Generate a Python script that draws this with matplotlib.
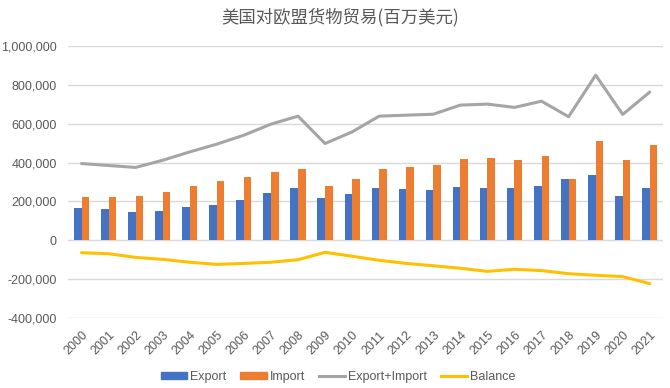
import matplotlib
matplotlib.use("Agg")
import matplotlib.pyplot as plt
import numpy as np
from matplotlib.patches import Patch
from matplotlib.lines import Line2D
from matplotlib.ticker import FuncFormatter

years = [str(y) for y in range(2000, 2022)]
export = [165, 160, 144, 149, 170, 180, 206, 242, 268, 216, 237,
          268, 263, 258, 273, 268, 268, 278, 314, 335, 227, 268]
imports = [222, 222, 227, 247, 278, 304, 325, 350, 366, 278, 314,
           366, 376, 387, 417, 423, 412, 433, 314, 510, 412, 490]
total = [395, 385, 375, 412, 455, 495, 541, 598, 639, 498, 558,
         639, 644, 649, 696, 701, 684, 716, 636, 850, 648, 763]
balance = [-64, -69, -88, -98, -113, -124, -119, -113, -100, -62, -82,
           -103, -119, -131, -144, -160, -149, -156, -172, -180, -187, -223]

# values read in thousands -> millions of dollars as shown on axis
export = np.array(export) * 1000
imports = np.array(imports) * 1000
total = np.array(total) * 1000
balance = np.array(balance) * 1000

BLUE, ORANGE, GREY, GOLD = "#4472C4", "#ED7D31", "#A5A5A5", "#FFC000"
TXT = "#595959"

plt.rcParams["font.family"] = ["Liberation Sans", "DejaVu Sans"]

fig = plt.figure(figsize=(6.7, 3.88), dpi=100)
ax = fig.add_axes([0.1015, 0.1804, 0.8885, 0.701])

x = np.arange(len(years))
w = 0.28
ax.bar(x - w / 2, export, w, color=BLUE, zorder=2)
ax.bar(x + w / 2, imports, w, color=ORANGE, zorder=2)
ax.plot(x, total, color=GREY, lw=2.2, zorder=3, solid_capstyle="round")
ax.plot(x, balance, color=GOLD, lw=2.2, zorder=3, solid_capstyle="round")

ax.set_xlim(-0.5, len(years) - 0.5)
ax.set_ylim(-400000, 1000000)
ax.set_yticks(np.arange(-400000, 1000001, 200000))
ax.yaxis.set_major_formatter(FuncFormatter(lambda v, p: f"{v:,.0f}"))
ax.set_xticks(x)
ax.set_xticklabels(years, rotation=45, ha="right", va="top",
                   rotation_mode="anchor")
ax.tick_params(axis="both", length=0, labelsize=9, colors=TXT)
ax.tick_params(axis="x", pad=8)
ax.tick_params(axis="y", pad=8)
ax.grid(axis="y", color="#D9D9D9", lw=1, zorder=0)
for s in ax.spines.values():
    s.set_visible(False)

fig.text(0.507, 0.955, "美国对欧盟货物贸易(百万美元)", ha="center", va="center",
         fontsize=12.5, color=TXT, family=["Noto Sans CJK SC", "DejaVu Sans"])

handles = [Patch(color=BLUE, label="Export"),
           Patch(color=ORANGE, label="Import"),
           Line2D([0], [0], color=GREY, lw=2.2, label="Export+Import"),
           Line2D([0], [0], color=GOLD, lw=2.2, label="Balance")]
leg = fig.legend(handles=handles, loc="center", bbox_to_anchor=(0.505, 0.028),
                 ncol=4, frameon=False, fontsize=9, handlelength=2.1,
                 handleheight=0.45, columnspacing=1.1, handletextpad=0.25,
                 labelcolor=TXT)

fig.savefig("out.png", dpi=100)
